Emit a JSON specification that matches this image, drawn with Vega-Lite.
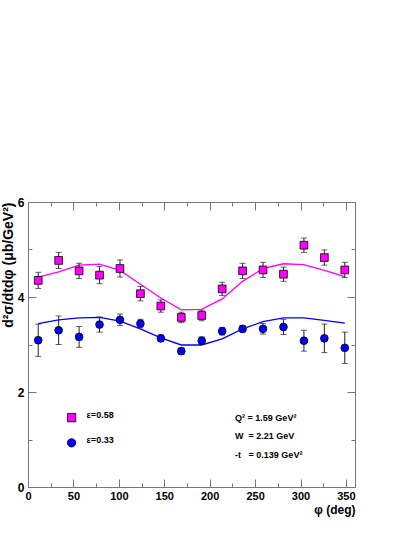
{
  "$schema": "https://vega.github.io/schema/vega-lite/v6.json",
  "width": 327,
  "height": 285,
  "autosize": {"type": "none"},
  "padding": {"left": 28, "top": 202, "right": 60, "bottom": 50},
  "background": "white",
  "config": {
    "view": {"stroke": "#777", "strokeWidth": 1},
    "font": "Liberation Sans",
    "axis": {"grid": false, "domain": false, "tickColor": "#777", "labelFont": "Liberation Sans", "labelFontWeight": "bold", "labelColor": "black", "titleFont": "Liberation Sans", "titleFontWeight": "bold", "titleColor": "black"}
  },
  "resolve": {"axis": {"x": "independent", "y": "independent"}},
  "datasets": {
    "pts": [
      {"phi": 11.25, "val": 4.35, "err": 0.17, "eps": "0.58"},
      {"phi": 33.75, "val": 4.77, "err": 0.17, "eps": "0.58"},
      {"phi": 56.25, "val": 4.55, "err": 0.16, "eps": "0.58"},
      {"phi": 78.75, "val": 4.46, "err": 0.18, "eps": "0.58"},
      {"phi": 101.25, "val": 4.60, "err": 0.18, "eps": "0.58"},
      {"phi": 123.75, "val": 4.07, "err": 0.15, "eps": "0.58"},
      {"phi": 146.25, "val": 3.81, "err": 0.13, "eps": "0.58"},
      {"phi": 168.75, "val": 3.57, "err": 0.11, "eps": "0.58"},
      {"phi": 191.25, "val": 3.61, "err": 0.11, "eps": "0.58"},
      {"phi": 213.75, "val": 4.17, "err": 0.14, "eps": "0.58"},
      {"phi": 236.25, "val": 4.55, "err": 0.16, "eps": "0.58"},
      {"phi": 258.75, "val": 4.57, "err": 0.16, "eps": "0.58"},
      {"phi": 281.25, "val": 4.48, "err": 0.15, "eps": "0.58"},
      {"phi": 303.75, "val": 5.09, "err": 0.15, "eps": "0.58"},
      {"phi": 326.25, "val": 4.83, "err": 0.16, "eps": "0.58"},
      {"phi": 348.75, "val": 4.57, "err": 0.16, "eps": "0.58"},
      {"phi": 11.25, "val": 3.09, "err": 0.34, "eps": "0.33"},
      {"phi": 33.75, "val": 3.30, "err": 0.30, "eps": "0.33"},
      {"phi": 56.25, "val": 3.16, "err": 0.22, "eps": "0.33"},
      {"phi": 78.75, "val": 3.42, "err": 0.16, "eps": "0.33"},
      {"phi": 101.25, "val": 3.52, "err": 0.12, "eps": "0.33"},
      {"phi": 123.75, "val": 3.44, "err": 0.09, "eps": "0.33"},
      {"phi": 146.25, "val": 3.13, "err": 0.07, "eps": "0.33"},
      {"phi": 168.75, "val": 2.86, "err": 0.07, "eps": "0.33"},
      {"phi": 191.25, "val": 3.08, "err": 0.08, "eps": "0.33"},
      {"phi": 213.75, "val": 3.28, "err": 0.08, "eps": "0.33"},
      {"phi": 236.25, "val": 3.33, "err": 0.07, "eps": "0.33"},
      {"phi": 258.75, "val": 3.33, "err": 0.11, "eps": "0.33"},
      {"phi": 281.25, "val": 3.37, "err": 0.16, "eps": "0.33"},
      {"phi": 303.75, "val": 3.08, "err": 0.22, "eps": "0.33"},
      {"phi": 326.25, "val": 3.13, "err": 0.30, "eps": "0.33"},
      {"phi": 348.75, "val": 2.93, "err": 0.33, "eps": "0.33"}
    ],
    "fit": [
      {"phi": 11.25, "fit": 4.42, "eps": "0.58"},
      {"phi": 33.75, "fit": 4.53, "eps": "0.58"},
      {"phi": 56.25, "fit": 4.67, "eps": "0.58"},
      {"phi": 78.75, "fit": 4.69, "eps": "0.58"},
      {"phi": 101.25, "fit": 4.56, "eps": "0.58"},
      {"phi": 123.75, "fit": 4.27, "eps": "0.58"},
      {"phi": 146.25, "fit": 3.98, "eps": "0.58"},
      {"phi": 168.75, "fit": 3.73, "eps": "0.58"},
      {"phi": 191.25, "fit": 3.74, "eps": "0.58"},
      {"phi": 213.75, "fit": 3.96, "eps": "0.58"},
      {"phi": 236.25, "fit": 4.33, "eps": "0.58"},
      {"phi": 258.75, "fit": 4.60, "eps": "0.58"},
      {"phi": 281.25, "fit": 4.70, "eps": "0.58"},
      {"phi": 303.75, "fit": 4.68, "eps": "0.58"},
      {"phi": 326.25, "fit": 4.56, "eps": "0.58"},
      {"phi": 348.75, "fit": 4.43, "eps": "0.58"},
      {"phi": 11.25, "fit": 3.44, "eps": "0.33"},
      {"phi": 33.75, "fit": 3.52, "eps": "0.33"},
      {"phi": 56.25, "fit": 3.56, "eps": "0.33"},
      {"phi": 78.75, "fit": 3.57, "eps": "0.33"},
      {"phi": 101.25, "fit": 3.49, "eps": "0.33"},
      {"phi": 123.75, "fit": 3.33, "eps": "0.33"},
      {"phi": 146.25, "fit": 3.14, "eps": "0.33"},
      {"phi": 168.75, "fit": 2.99, "eps": "0.33"},
      {"phi": 191.25, "fit": 2.99, "eps": "0.33"},
      {"phi": 213.75, "fit": 3.12, "eps": "0.33"},
      {"phi": 236.25, "fit": 3.33, "eps": "0.33"},
      {"phi": 258.75, "fit": 3.48, "eps": "0.33"},
      {"phi": 281.25, "fit": 3.56, "eps": "0.33"},
      {"phi": 303.75, "fit": 3.56, "eps": "0.33"},
      {"phi": 326.25, "fit": 3.51, "eps": "0.33"},
      {"phi": 348.75, "fit": 3.45, "eps": "0.33"}
    ],
    "legend": [
      {"phi": 48, "val": 1.46, "eps": "0.58", "label": "ε=0.58"},
      {"phi": 48, "val": 0.93, "eps": "0.33", "label": "ε=0.33"}
    ],
    "notes": [
      {"phi": 228, "val": 1.46, "label": "Q² = 1.59 GeV²"},
      {"phi": 228, "val": 1.07, "label": "W\u00a0\u00a0= 2.21 GeV"},
      {"phi": 228, "val": 0.68, "label": "-t\u00a0\u00a0\u00a0= 0.139 GeV²"}
    ]
  },
  "layer": [
    {
      "data": {"name": "fit"},
      "mark": {"type": "line", "strokeWidth": 1.3},
      "encoding": {
        "x": {"field": "phi", "type": "quantitative", "scale": {"domain": [0, 360], "nice": false},
          "axis": {"title": "φ (deg)", "titleAnchor": "end", "titleFontSize": 12, "titlePadding": 3, "values": [0, 25, 50, 75, 100, 125, 150, 175, 200, 225, 250, 275, 300, 325, 350],
            "tickSize": {"condition": {"test": "datum.value % 50 === 0", "value": -8}, "value": -4},
            "labelExpr": "datum.value % 50 === 0 ? datum.label : ''",
            "labelPadding": 11, "labelFontSize": 11, "labelFlush": false}},
        "y": {"field": "fit", "type": "quantitative", "scale": {"domain": [0, 6], "nice": false},
          "axis": {"title": "d²σ/dtdφ (μb/GeV²)", "titleAnchor": "end", "titleFontSize": 14, "titlePadding": 2, "values": [0, 1, 2, 3, 4, 5, 6],
            "tickSize": {"condition": {"test": "datum.value % 2 === 0", "value": -8}, "value": -4},
            "labelExpr": "datum.value % 2 === 0 ? datum.label : ''",
            "labelPadding": 12, "labelFontSize": 12}},
        "color": {"field": "eps", "type": "nominal", "scale": {"domain": ["0.58", "0.33"], "range": ["#ff00ff", "#0000ff"]}, "legend": null},
        "detail": {"field": "eps"}
      }
    },
    {
      "data": {"name": "pts"},
      "mark": {"type": "errorbar", "ticks": {"size": 6}, "rule": {"strokeWidth": 1}, "color": "#222"},
      "encoding": {
        "x": {"field": "phi", "type": "quantitative", "axis": {"orient": "top", "labels": false, "title": null, "values": [0, 25, 50, 75, 100, 125, 150, 175, 200, 225, 250, 275, 300, 325, 350],
          "tickSize": {"condition": {"test": "datum.value % 50 === 0", "value": -8}, "value": -4}}},
        "y": {"field": "val", "type": "quantitative", "axis": {"orient": "right", "labels": false, "title": null, "values": [0, 1, 2, 3, 4, 5, 6],
          "tickSize": {"condition": {"test": "datum.value % 2 === 0", "value": -8}, "value": -4}}},
        "yError": {"field": "err"},
        "detail": {"field": "eps"}
      }
    },
    {
      "data": {"name": "pts"},
      "mark": {"type": "point", "filled": true, "size": 60, "stroke": "black", "strokeWidth": 0.8, "opacity": 1},
      "encoding": {
        "x": {"field": "phi", "type": "quantitative", "axis": null},
        "y": {"field": "val", "type": "quantitative", "axis": null},
        "color": {"field": "eps", "type": "nominal", "legend": null},
        "shape": {"field": "eps", "type": "nominal", "scale": {"domain": ["0.58", "0.33"], "range": ["square", "circle"]}, "legend": null}
      }
    },
    {
      "data": {"name": "legend"},
      "mark": {"type": "point", "filled": true, "size": 70, "stroke": "black", "strokeWidth": 0.8, "opacity": 1},
      "encoding": {
        "x": {"field": "phi", "type": "quantitative", "axis": null},
        "y": {"field": "val", "type": "quantitative", "axis": null},
        "color": {"field": "eps", "type": "nominal", "legend": null},
        "shape": {"field": "eps", "type": "nominal", "legend": null}
      }
    },
    {
      "data": {"name": "legend"},
      "mark": {"type": "text", "align": "left", "baseline": "middle", "dx": 15, "dy": -3, "fontSize": 9, "fontWeight": "bold", "font": "Liberation Sans"},
      "encoding": {
        "x": {"field": "phi", "type": "quantitative", "axis": null},
        "y": {"field": "val", "type": "quantitative", "axis": null},
        "text": {"field": "label"}
      }
    },
    {
      "data": {"name": "notes"},
      "mark": {"type": "text", "align": "left", "baseline": "middle", "fontSize": 9, "fontWeight": "bold", "font": "Liberation Sans"},
      "encoding": {
        "x": {"field": "phi", "type": "quantitative", "axis": null},
        "y": {"field": "val", "type": "quantitative", "axis": null},
        "text": {"field": "label"}
      }
    }
  ]
}
